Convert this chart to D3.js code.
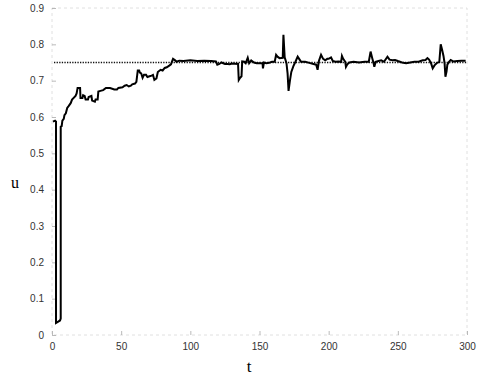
<!DOCTYPE html>
<html>
<head>
<meta charset="utf-8">
<script src="https://cdn.jsdelivr.net/npm/d3@7"></script>
<style>
  html, body { margin: 0; padding: 0; background: #fff; }
  svg { display: block; }
</style>
</head>
<body>
<svg id="chart" width="481" height="380"></svg>
<script>
// ---- data ----
const xTicks = [0, 50, 100, 150, 200, 250, 300];
const yTicks = [0, 0.1, 0.2, 0.3, 0.4, 0.5, 0.6, 0.7, 0.8, 0.9];
const refValue = 0.75;
const tValues = [0.7,2.2,2.9,2.9,5.8,6.3,6.3,7,7.5,8.5,9,10,11,12,13.5,14.5,15.5,17,17.8,18.5,20.3,20.6,22,22.5,23.6,24.3,26,26.5,28.5,29,31,31.5,33,33.5,35,37,39,42,45,47,48,51,52.5,54,55.5,57,58,60,61,62,63,63.5,64.5,65.5,66.5,68,69,70.5,72,73,74,75.5,76.5,78.5,80,81.5,83,85,86,87.5,89,90,92,95,100,105,110,115,118.5,119.5,121,122.5,125,127,128.5,130,134.5,135,136,137,137.5,139,140,141.5,142.5,144,146,148,150,152.2,152.5,153.2,155,157,159,161,162,163,164.5,166.8,167.3,168.2,169.5,170.3,171,172,173,174.5,176,177.6,179,180,183,186,189,191,192,193,194.5,196,197.5,199,200,201.7,203,205,207,209,209.6,210.5,212,212.5,213.5,215,218,222,226,229,230.3,231.5,232.5,233,234,236,238,240,242.5,244,246,248,250,253,256,259,262,265,268,270,271.4,272.6,274,275.2,276.5,278,280,281,282,283,283.8,284.4,285.2,285.8,287,288.2,290,293,296,299];
const uValues = [0.587,0.59,0.587,0.033,0.04,0.045,0.573,0.575,0.59,0.595,0.605,0.61,0.625,0.63,0.638,0.648,0.652,0.658,0.665,0.68,0.68,0.652,0.652,0.66,0.658,0.648,0.648,0.655,0.658,0.645,0.642,0.648,0.648,0.67,0.672,0.674,0.68,0.68,0.676,0.676,0.68,0.682,0.686,0.688,0.684,0.686,0.69,0.692,0.697,0.728,0.728,0.722,0.72,0.708,0.716,0.716,0.71,0.712,0.714,0.716,0.702,0.706,0.724,0.73,0.728,0.735,0.737,0.742,0.745,0.76,0.756,0.752,0.755,0.754,0.756,0.754,0.755,0.754,0.753,0.744,0.746,0.75,0.746,0.746,0.745,0.747,0.746,0.702,0.708,0.712,0.753,0.752,0.748,0.763,0.748,0.756,0.75,0.748,0.748,0.748,0.734,0.75,0.748,0.749,0.752,0.752,0.771,0.766,0.762,0.763,0.826,0.764,0.748,0.72,0.672,0.7,0.724,0.74,0.752,0.766,0.758,0.752,0.752,0.749,0.746,0.744,0.73,0.755,0.771,0.76,0.756,0.76,0.76,0.764,0.754,0.752,0.753,0.752,0.768,0.76,0.752,0.738,0.745,0.75,0.752,0.75,0.752,0.752,0.78,0.762,0.748,0.738,0.752,0.754,0.756,0.752,0.766,0.758,0.756,0.757,0.754,0.75,0.748,0.75,0.752,0.752,0.756,0.757,0.762,0.758,0.748,0.734,0.742,0.748,0.752,0.8,0.785,0.768,0.748,0.711,0.725,0.744,0.752,0.757,0.753,0.754,0.755,0.755];

// ---- layout ----
const svg = d3.select("#chart");
const L = 52, R = 467, T = 8, B = 335;
const x = d3.scaleLinear().domain([0, 300]).range([L, R]);
const y = d3.scaleLinear().domain([0, 0.9]).range([B, T]);

// frame (faint)
svg.append("rect")
  .attr("x", L).attr("y", T).attr("width", R - L).attr("height", B - T)
  .attr("fill", "none").attr("stroke", "#d8d8d8").attr("stroke-width", 0.8)
  .attr("stroke-dasharray", "3,3");

// axes
const yAxis = d3.axisLeft(y).tickValues(yTicks).tickSizeInner(-4).tickSizeOuter(0).tickPadding(8)
  .tickFormat(d => d === 0 ? "0" : d3.format(".1f")(d));
const gy = svg.append("g").attr("transform", `translate(${L},0)`).call(yAxis);
const xAxis = d3.axisBottom(x).tickValues(xTicks).tickSizeInner(-4).tickSizeOuter(0).tickPadding(8)
  .tickFormat(d3.format("d"));
const gx = svg.append("g").attr("transform", `translate(0,${B})`).call(xAxis);
[gx, gy].forEach(g => {
  g.select(".domain").remove();
  g.selectAll(".tick line").attr("stroke", "#aaa").attr("stroke-width", 0.8);
  g.selectAll(".tick text").attr("fill", "#333")
    .style("font-family", "'Liberation Sans', Arial, sans-serif").style("font-size", "10px");
});

// reference line
svg.append("line")
  .attr("x1", x(0) + 2).attr("x2", x(300)).attr("y1", y(refValue)).attr("y2", y(refValue))
  .attr("stroke", "#111").attr("stroke-width", 1.6).attr("stroke-dasharray", "1.3,1.3");

// curve
const pts = tValues.map((t, i) => [t, uValues[i]]);
svg.append("path")
  .datum(pts)
  .attr("fill", "none").attr("stroke", "#000").attr("stroke-width", 2)
  .attr("stroke-linejoin", "miter")
  .attr("d", d3.line().x(d => x(d[0])).y(d => y(d[1])));

// axis titles
svg.append("text").attr("x", 15).attr("y", 188).attr("text-anchor", "middle")
  .style("font-family", "'Liberation Serif', 'Times New Roman', serif").style("font-size", "16px")
  .text("u");
svg.append("text").attr("x", 249).attr("y", 372).attr("text-anchor", "middle")
  .style("font-family", "'Liberation Serif', 'Times New Roman', serif").style("font-size", "17px")
  .text("t");
</script>
</body>
</html>
